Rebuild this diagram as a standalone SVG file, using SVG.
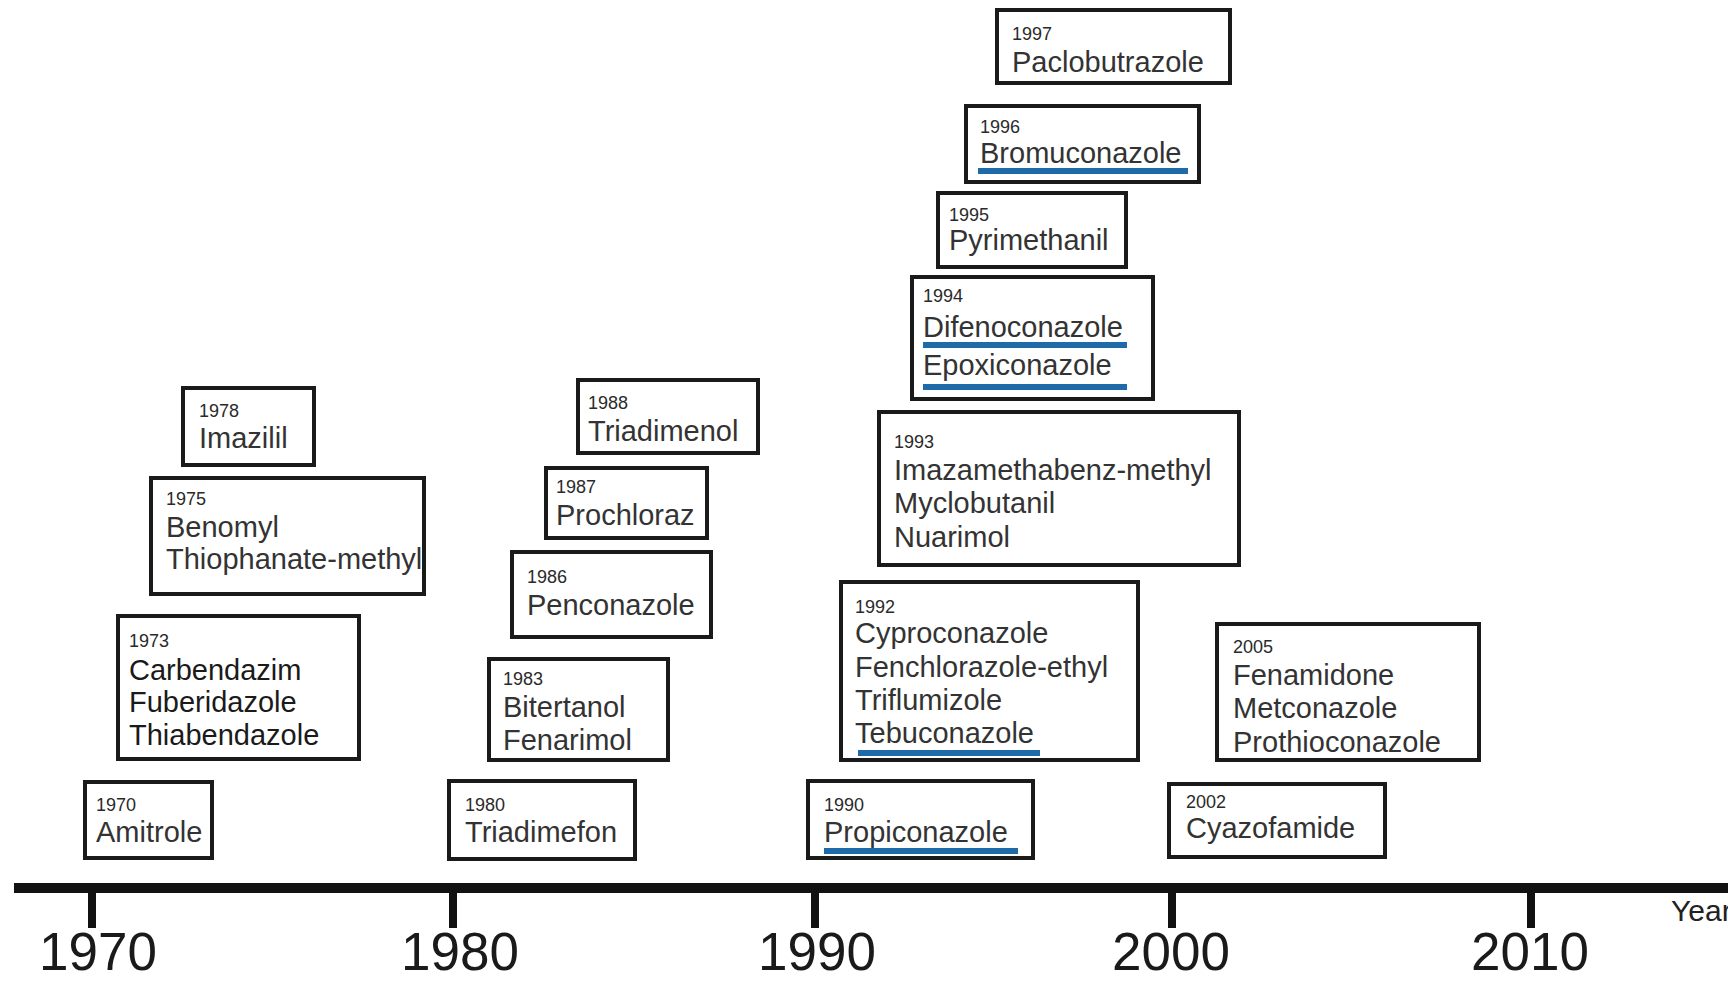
<svg xmlns="http://www.w3.org/2000/svg" width="1728" height="982" viewBox="0 0 1728 982">
<style>
.box{fill:#fff;stroke:#1a1a1a;stroke-width:4}
.yr{font-family:"Liberation Sans",Arial,sans-serif;font-size:18px;fill:#2a2a2a}
.nm{font-family:"Liberation Sans",Arial,sans-serif;font-size:29px;fill:#333}
.dk{fill:#1a1a1a}
.ul{stroke:#1f6aa8;stroke-width:6}
.ax{font-family:"Liberation Sans",Arial,sans-serif;font-size:53px;fill:#1a1a1a;text-anchor:middle}
.tick{stroke:#111;stroke-width:8}
</style>
<rect width="1728" height="982" fill="#fff"/>

<g id="axis">
  <line x1="14" y1="888" x2="1728" y2="888" stroke="#111" stroke-width="10"/>
  <line class="tick" x1="92" y1="888" x2="92" y2="928"/>
  <line class="tick" x1="453" y1="888" x2="453" y2="928"/>
  <line class="tick" x1="815" y1="888" x2="815" y2="928"/>
  <line class="tick" x1="1172" y1="888" x2="1172" y2="928"/>
  <line class="tick" x1="1531" y1="888" x2="1531" y2="928"/>
  <text class="ax" x="98" y="970">1970</text>
  <text class="ax" x="460" y="970">1980</text>
  <text class="ax" x="817" y="970">1990</text>
  <text class="ax" x="1171" y="970">2000</text>
  <text class="ax" x="1530" y="970">2010</text>
  <text x="1671" y="921" font-family="Liberation Sans, Arial, sans-serif" font-size="30" fill="#222">Year</text>
</g>

<g id="n1970">
  <rect class="box" x="85" y="782" width="127" height="76"/>
  <text class="yr" x="96" y="811">1970</text>
  <text class="nm" x="96" y="842">Amitrole</text>
</g>
<g id="n1973">
  <rect class="box" x="118" y="616" width="241" height="143"/>
  <text class="yr" x="129" y="647">1973</text>
  <text class="nm dk" x="129" y="680">Carbendazim</text>
  <text class="nm dk" x="129" y="712">Fuberidazole</text>
  <text class="nm dk" x="129" y="745">Thiabendazole</text>
</g>
<g id="n1975">
  <rect class="box" x="151" y="478" width="273" height="116"/>
  <text class="yr" x="166" y="505">1975</text>
  <text class="nm" x="166" y="537">Benomyl</text>
  <text class="nm" x="166" y="569">Thiophanate-methyl</text>
</g>
<g id="n1978">
  <rect class="box" x="183" y="388" width="131" height="77"/>
  <text class="yr" x="199" y="417">1978</text>
  <text class="nm" x="199" y="448">Imazilil</text>
</g>

<g id="n1980">
  <rect class="box" x="449" y="781" width="186" height="78"/>
  <text class="yr" x="465" y="811">1980</text>
  <text class="nm" x="465" y="842">Triadimefon</text>
</g>
<g id="n1983">
  <rect class="box" x="489" y="659" width="179" height="101"/>
  <text class="yr" x="503" y="685">1983</text>
  <text class="nm" x="503" y="717">Bitertanol</text>
  <text class="nm" x="503" y="750">Fenarimol</text>
</g>
<g id="n1986">
  <rect class="box" x="512" y="552" width="199" height="85"/>
  <text class="yr" x="527" y="583">1986</text>
  <text class="nm" x="527" y="615">Penconazole</text>
</g>
<g id="n1987">
  <rect class="box" x="546" y="468" width="161" height="70"/>
  <text class="yr" x="556" y="493">1987</text>
  <text class="nm" x="556" y="525">Prochloraz</text>
</g>
<g id="n1988">
  <rect class="box" x="578" y="380" width="180" height="73"/>
  <text class="yr" x="588" y="409">1988</text>
  <text class="nm" x="588" y="441">Triadimenol</text>
</g>

<g id="n1990">
  <rect class="box" x="808" y="781" width="225" height="77"/>
  <text class="yr" x="824" y="811">1990</text>
  <text class="nm" x="824" y="842">Propiconazole</text>
  <line class="ul" x1="824" y1="851" x2="1018" y2="851"/>
</g>
<g id="n1992">
  <rect class="box" x="841" y="582" width="297" height="178"/>
  <text class="yr" x="855" y="613">1992</text>
  <text class="nm" x="855" y="643">Cyproconazole</text>
  <text class="nm" x="855" y="677">Fenchlorazole-ethyl</text>
  <text class="nm" x="855" y="710">Triflumizole</text>
  <text class="nm" x="855" y="743">Tebuconazole</text>
  <line class="ul" x1="858" y1="753" x2="1040" y2="753"/>
</g>
<g id="n1993">
  <rect class="box" x="879" y="412" width="360" height="153"/>
  <text class="yr" x="894" y="448">1993</text>
  <text class="nm" x="894" y="480">Imazamethabenz-methyl</text>
  <text class="nm" x="894" y="513">Myclobutanil</text>
  <text class="nm" x="894" y="547">Nuarimol</text>
</g>
<g id="n1994">
  <rect class="box" x="912" y="277" width="241" height="122"/>
  <text class="yr" x="923" y="302">1994</text>
  <text class="nm" x="923" y="337">Difenoconazole</text>
  <line class="ul" x1="923" y1="345" x2="1127" y2="345"/>
  <text class="nm" x="923" y="375">Epoxiconazole</text>
  <line class="ul" x1="923" y1="387" x2="1127" y2="387"/>
</g>
<g id="n1995">
  <rect class="box" x="938" y="193" width="188" height="74"/>
  <text class="yr" x="949" y="221">1995</text>
  <text class="nm" x="949" y="250">Pyrimethanil</text>
</g>
<g id="n1996">
  <rect class="box" x="966" y="106" width="233" height="76"/>
  <text class="yr" x="980" y="133">1996</text>
  <text class="nm" x="980" y="163">Bromuconazole</text>
  <line class="ul" x1="978" y1="171" x2="1188" y2="171"/>
</g>
<g id="n1997">
  <rect class="box" x="997" y="10" width="233" height="73"/>
  <text class="yr" x="1012" y="40">1997</text>
  <text class="nm" x="1012" y="72">Paclobutrazole</text>
</g>

<g id="n2002">
  <rect class="box" x="1169" y="784" width="216" height="73"/>
  <text class="yr" x="1186" y="808">2002</text>
  <text class="nm" x="1186" y="838">Cyazofamide</text>
</g>
<g id="n2005">
  <rect class="box" x="1217" y="624" width="262" height="136"/>
  <text class="yr" x="1233" y="653">2005</text>
  <text class="nm" x="1233" y="685">Fenamidone</text>
  <text class="nm" x="1233" y="718">Metconazole</text>
  <text class="nm" x="1233" y="752">Prothioconazole</text>
</g>
</svg>
